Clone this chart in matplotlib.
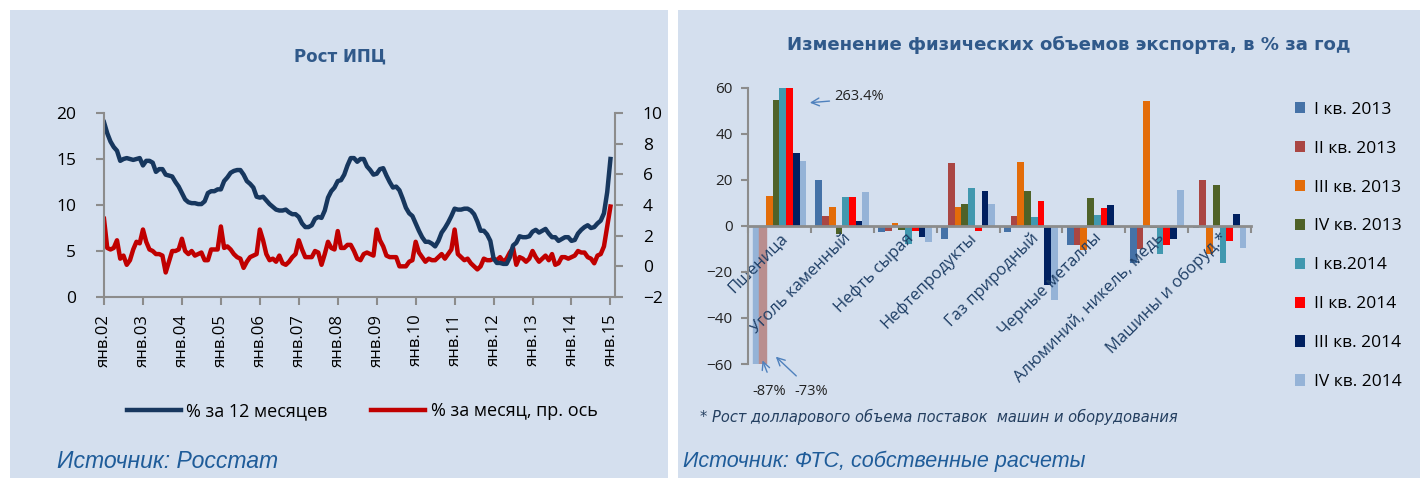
import numpy as np
import matplotlib.pyplot as plt
from matplotlib.patches import Rectangle

plt.rcParams['font.family'] = ['Open Sans', 'DejaVu Sans']

# ---- left chart: CPI growth, monthly Jan 2002 .. Jan 2015
cpi_12m = [19.0, 17.8, 16.9, 16.3, 15.9, 14.8, 15.0, 15.1, 15.0, 14.9, 15.0, 15.1,
           14.3, 14.8, 14.8, 14.6, 13.6, 13.9, 13.9, 13.3, 13.2, 13.1, 12.5, 12.0,
           11.3, 10.6, 10.3, 10.2, 10.2, 10.1, 10.1, 10.4, 11.3, 11.5, 11.5, 11.7,
           11.7, 12.6, 13.0, 13.5, 13.7, 13.8, 13.8, 13.3, 12.6, 12.3, 11.9, 10.9,
           10.8, 10.9, 10.5, 10.1, 9.8, 9.5, 9.4, 9.4, 9.5, 9.2, 9.0, 9.0,
           8.7, 8.0, 7.6, 7.6, 7.8, 8.5, 8.7, 8.6, 9.4, 10.8, 11.5, 11.9,
           12.6, 12.7, 13.3, 14.3, 15.1, 15.1, 14.7, 15.0, 15.0, 14.2, 13.8, 13.3,
           13.4, 13.9, 14.0, 13.2, 12.5, 11.9, 12.0, 11.6, 10.7, 9.7, 9.1, 8.8,
           8.0, 7.2, 6.5, 6.0, 6.0, 5.8, 5.5, 6.1, 7.0, 7.5, 8.1, 8.8,
           9.6, 9.5, 9.5, 9.6, 9.6, 9.4, 9.0, 8.2, 7.2, 7.2, 6.8, 6.1,
           4.2, 3.7, 3.7, 3.6, 3.6, 4.3, 5.6, 5.9, 6.6, 6.5, 6.5, 6.6,
           7.1, 7.3, 7.0, 7.2, 7.4, 6.9, 6.5, 6.5, 6.1, 6.3, 6.5, 6.5,
           6.1, 6.2, 6.9, 7.3, 7.6, 7.8, 7.5, 7.6, 8.0, 8.3, 9.1, 11.4,
           15.0]
cpi_mom = [3.1, 1.2, 1.1, 1.2, 1.7, 0.5, 0.7, 0.1, 0.4, 1.1, 1.6, 1.5,
           2.4, 1.6, 1.1, 1.0, 0.8, 0.8, 0.7, -0.4, 0.3, 1.0, 1.0, 1.1,
           1.8, 1.0, 0.8, 1.0, 0.7, 0.8, 0.9, 0.4, 0.4, 1.1, 1.1, 1.1,
           2.6, 1.2, 1.3, 1.1, 0.8, 0.6, 0.5, -0.1, 0.3, 0.6, 0.7, 0.8,
           2.4, 1.7, 0.8, 0.4, 0.5, 0.3, 0.7, 0.2, 0.1, 0.3, 0.6, 0.8,
           1.7, 1.1, 0.6, 0.6, 0.6, 1.0, 0.9, 0.1, 0.8, 1.6, 1.2, 1.1,
           2.3, 1.2, 1.2, 1.4, 1.4, 1.0, 0.5, 0.4, 0.8, 0.9, 0.8, 0.7,
           2.4, 1.7, 1.3, 0.7, 0.6, 0.6, 0.6, 0.0, 0.0, 0.0, 0.3, 0.4,
           1.6, 0.9, 0.6, 0.3, 0.5, 0.4, 0.4, 0.6, 0.8, 0.5, 0.8, 1.1,
           2.4, 0.8, 0.6, 0.4, 0.5, 0.2, 0.0, -0.2, 0.0, 0.5, 0.4, 0.4,
           0.5, 0.4, 0.6, 0.3, 0.5, 0.9, 1.2, 0.1, 0.6, 0.5, 0.3, 0.5,
           1.0, 0.6, 0.3, 0.5, 0.7, 0.4, 0.8, 0.1, 0.2, 0.6, 0.6, 0.5,
           0.6, 0.7, 1.0, 0.9, 0.9, 0.6, 0.5, 0.2, 0.7, 0.8, 1.3, 2.6,
           3.9]
jan_labels = ['янв.02', 'янв.03', 'янв.04', 'янв.05', 'янв.06', 'янв.07', 'янв.08',
              'янв.09', 'янв.10', 'янв.11', 'янв.12', 'янв.13', 'янв.14', 'янв.15']

# ---- right chart: export volumes, % y/y
categories = ['Пшеница', 'Уголь каменный', 'Нефть сырая', 'Нефтепродукты',
              'Газ природный', 'Черные металлы', 'Алюминий, никель, медь',
              'Машины и оборуд.*']
quarters = ['I кв. 2013', 'II кв. 2013', 'III кв. 2013', 'IV кв. 2013',
            'I кв.2014', 'II кв. 2014', 'III кв. 2014', 'IV кв. 2014']
q1_13 = [-87, 19.8, -2.6, -5.8, -2.6, -8.2, -16.0, -1.0]
q2_13 = [-73, 4.2, -2.2, 27.2, 4.2, -8.2, -10.0, 19.8]
q3_13 = [12.9, 8.1, 1.2, 8.1, 27.6, -10.5, 54.0, -12.3]
q4_13 = [54.5, -3.5, -1.7, 9.4, 15.0, 12.0, -1.0, 17.5]
q1_14 = [60.0, 12.4, -7.8, 16.3, 3.8, 4.6, -12.3, -16.0]
q2_14 = [263.4, 12.4, -2.2, -2.2, 10.7, 7.7, -8.2, -6.6]
q3_14 = [31.5, 2.0, -4.8, 15.0, -25.6, 9.0, -5.8, 5.0]
q4_14 = [28.0, 14.6, -6.9, 9.4, -32.2, -1.0, 15.5, -9.5]
series = [q1_13, q2_13, q3_13, q4_13, q1_14, q2_14, q3_14, q4_14]
colors = ['#4572a7', '#aa4643', '#e36c09', '#4f6228',
          '#4198af', '#ff0000', '#002060', '#95b3d7']

bg = '#d4dfee'
grey = '#8c8c8c'
title_c = '#30598a'

W, H = 1424, 482
fig = plt.figure(figsize=(W / 100, H / 100), dpi=100, facecolor='white')
fig.patches.append(Rectangle((10 / W, 4 / H), 658 / W, 468 / H, transform=fig.transFigure,
                             facecolor=bg, edgecolor='none', zorder=-10))
fig.patches.append(Rectangle((678 / W, 4 / H), 742 / W, 468 / H, transform=fig.transFigure,
                             facecolor=bg, edgecolor='none', zorder=-10))

def fbox(x0, y0, x1, y1):
    return [x0 / W, 1 - y1 / H, (x1 - x0) / W, (y1 - y0) / H]

# ---------------- left
ax = fig.add_axes(fbox(104, 113, 615, 297))
ax.set_facecolor('none')
x = np.arange(len(cpi_12m))
l1, = ax.plot(x, cpi_12m, color='#17375e', lw=3.2, solid_joinstyle='round')
ax.set_xlim(0, len(cpi_12m) + 0.4)
ax.set_ylim(0, 20)
ax.set_yticks([0, 5, 10, 15, 20])
ax.set_xticks(np.arange(0, len(cpi_12m), 12))
ax.set_xticklabels(jan_labels, rotation=90)
ax2 = ax.twinx()
l2, = ax2.plot(x, cpi_mom, color='#c00000', lw=3.2, solid_joinstyle='round')
ax2.set_ylim(-2, 10)
ax2.set_yticks([-2, 0, 2, 4, 6, 8, 10])
ax.set_zorder(ax2.get_zorder() + 1)
for a in (ax, ax2):
    a.spines['top'].set_visible(False)
    for s in ['left', 'right', 'bottom']:
        a.spines[s].set_color(grey)
        a.spines[s].set_linewidth(1.5)
    a.tick_params(colors=grey, labelcolor='black', width=1.5, length=6, labelsize=12.5)
    a.tick_params(axis='y', pad=14)
ax.tick_params(axis='x', labelsize=12, pad=6)
ax.spines['right'].set_visible(False)
ax2.spines['left'].set_visible(False)
ax2.spines['bottom'].set_visible(False)

fig.text(340 / W, 1 - 57 / H, 'Рост ИПЦ', ha='center', va='center', fontsize=12,
         fontweight='bold', color=title_c, family='DejaVu Sans')
fig.legend([l1, l2], ['% за 12 месяцев', '% за месяц, пр. ось'], loc='center',
           bbox_to_anchor=(362 / W, 1 - 411 / H), ncol=2, frameon=False,
           handlelength=3.0, handletextpad=0.3, columnspacing=2.4, fontsize=13)
fig.text(57 / W, 1 - 461 / H, 'Источник: Росстат', ha='left', va='center',
         fontsize=16.6, style='italic', color='#1f5c99', family='Liberation Sans')

# ---------------- right
bx = fig.add_axes(fbox(748, 87.5, 1251, 364))
bx.set_facecolor('none')
n = len(series)
bw = 0.107
pos = np.arange(len(categories))
bars = []
for i, (vals, c, lab) in enumerate(zip(series, colors, quarters)):
    b = bx.bar(pos + (i - (n - 1) / 2) * bw, vals, width=bw, color=c, label=lab)
    bars.append(b)
# off-scale wheat bars shown faded
bars[0][0].set_color('#95b3d7')
bars[1][0].set_color('#b98e8e')

bx.set_xlim(-0.5, len(categories) - 0.5)
bx.set_ylim(-60, 60)
bx.set_yticks(np.arange(-60, 61, 20))
for s in ['top', 'right']:
    bx.spines[s].set_visible(False)
bx.spines['left'].set_color(grey)
bx.spines['left'].set_linewidth(1.5)
bx.spines['bottom'].set_position(('data', 0))
bx.spines['bottom'].set_color(grey)
bx.spines['bottom'].set_linewidth(2)
bx.spines['bottom'].set_zorder(3)
bx.tick_params(axis='y', colors=grey, labelcolor='#222222', width=1.5, length=5,
               labelsize=11, pad=6)
bx.set_xticks(pos)
bx.set_xticklabels(categories, rotation=45, ha='right', va='top', rotation_mode='anchor',
                   fontsize=12, color='#1f3f66')
bx.set_xticks(np.arange(-0.5, len(categories), 1), minor=True)
bx.tick_params(axis='x', which='major', length=0, pad=3)
bx.tick_params(axis='x', which='minor', length=5, width=1.5, colors=grey)

arrow = dict(arrowstyle='->', color='#4f81bd', lw=1.0, mutation_scale=14)
bx.annotate('', xy=(0.44, 53.3), xytext=(0.84, 54.2), arrowprops=arrow, annotation_clip=False)
bx.text(0.87, 56.0, '263.4%', ha='left', va='center', fontsize=10.5, color='#222222')
bx.annotate('', xy=(-0.285, -57.3), xytext=(-0.18, -64.7), arrowprops=arrow, annotation_clip=False)
bx.annotate('', xy=(-0.09, -56.0), xytext=(0.30, -66.0), arrowprops=arrow, annotation_clip=False)
bx.text(-0.165, -72.0, '-87%', ha='center', va='center', fontsize=10.5, color='#222222')
bx.text(0.50, -72.0, '-73%', ha='center', va='center', fontsize=10.5, color='#222222')

fig.text(1069 / W, 1 - 45 / H, 'Изменение физических объемов экспорта, в % за год',
         ha='center', va='center', fontsize=13.1, fontweight='bold', color=title_c,
         family='DejaVu Sans')
fig.legend(handles=[b[1] for b in bars], labels=quarters, loc='upper left',
           bbox_to_anchor=(1286 / W, 1 - 93 / H), frameon=False, fontsize=12.5,
           handlelength=0.62, handleheight=0.62, handletextpad=0.5, labelspacing=1.32,
           borderpad=0)
fig.text(700 / W, 1 - 417 / H, '* Рост долларового объема поставок  машин и оборудования',
         ha='left', va='center', fontsize=10.5, style='italic', color='#243f60',
         family='DejaVu Sans')
fig.text(683 / W, 1 - 461 / H, 'Источник: ФТС, собственные расчеты', ha='left', va='center',
         fontsize=15.5, style='italic', color='#1f5c99', family='Liberation Sans')

fig.savefig('out.png', dpi=100, facecolor='white')
